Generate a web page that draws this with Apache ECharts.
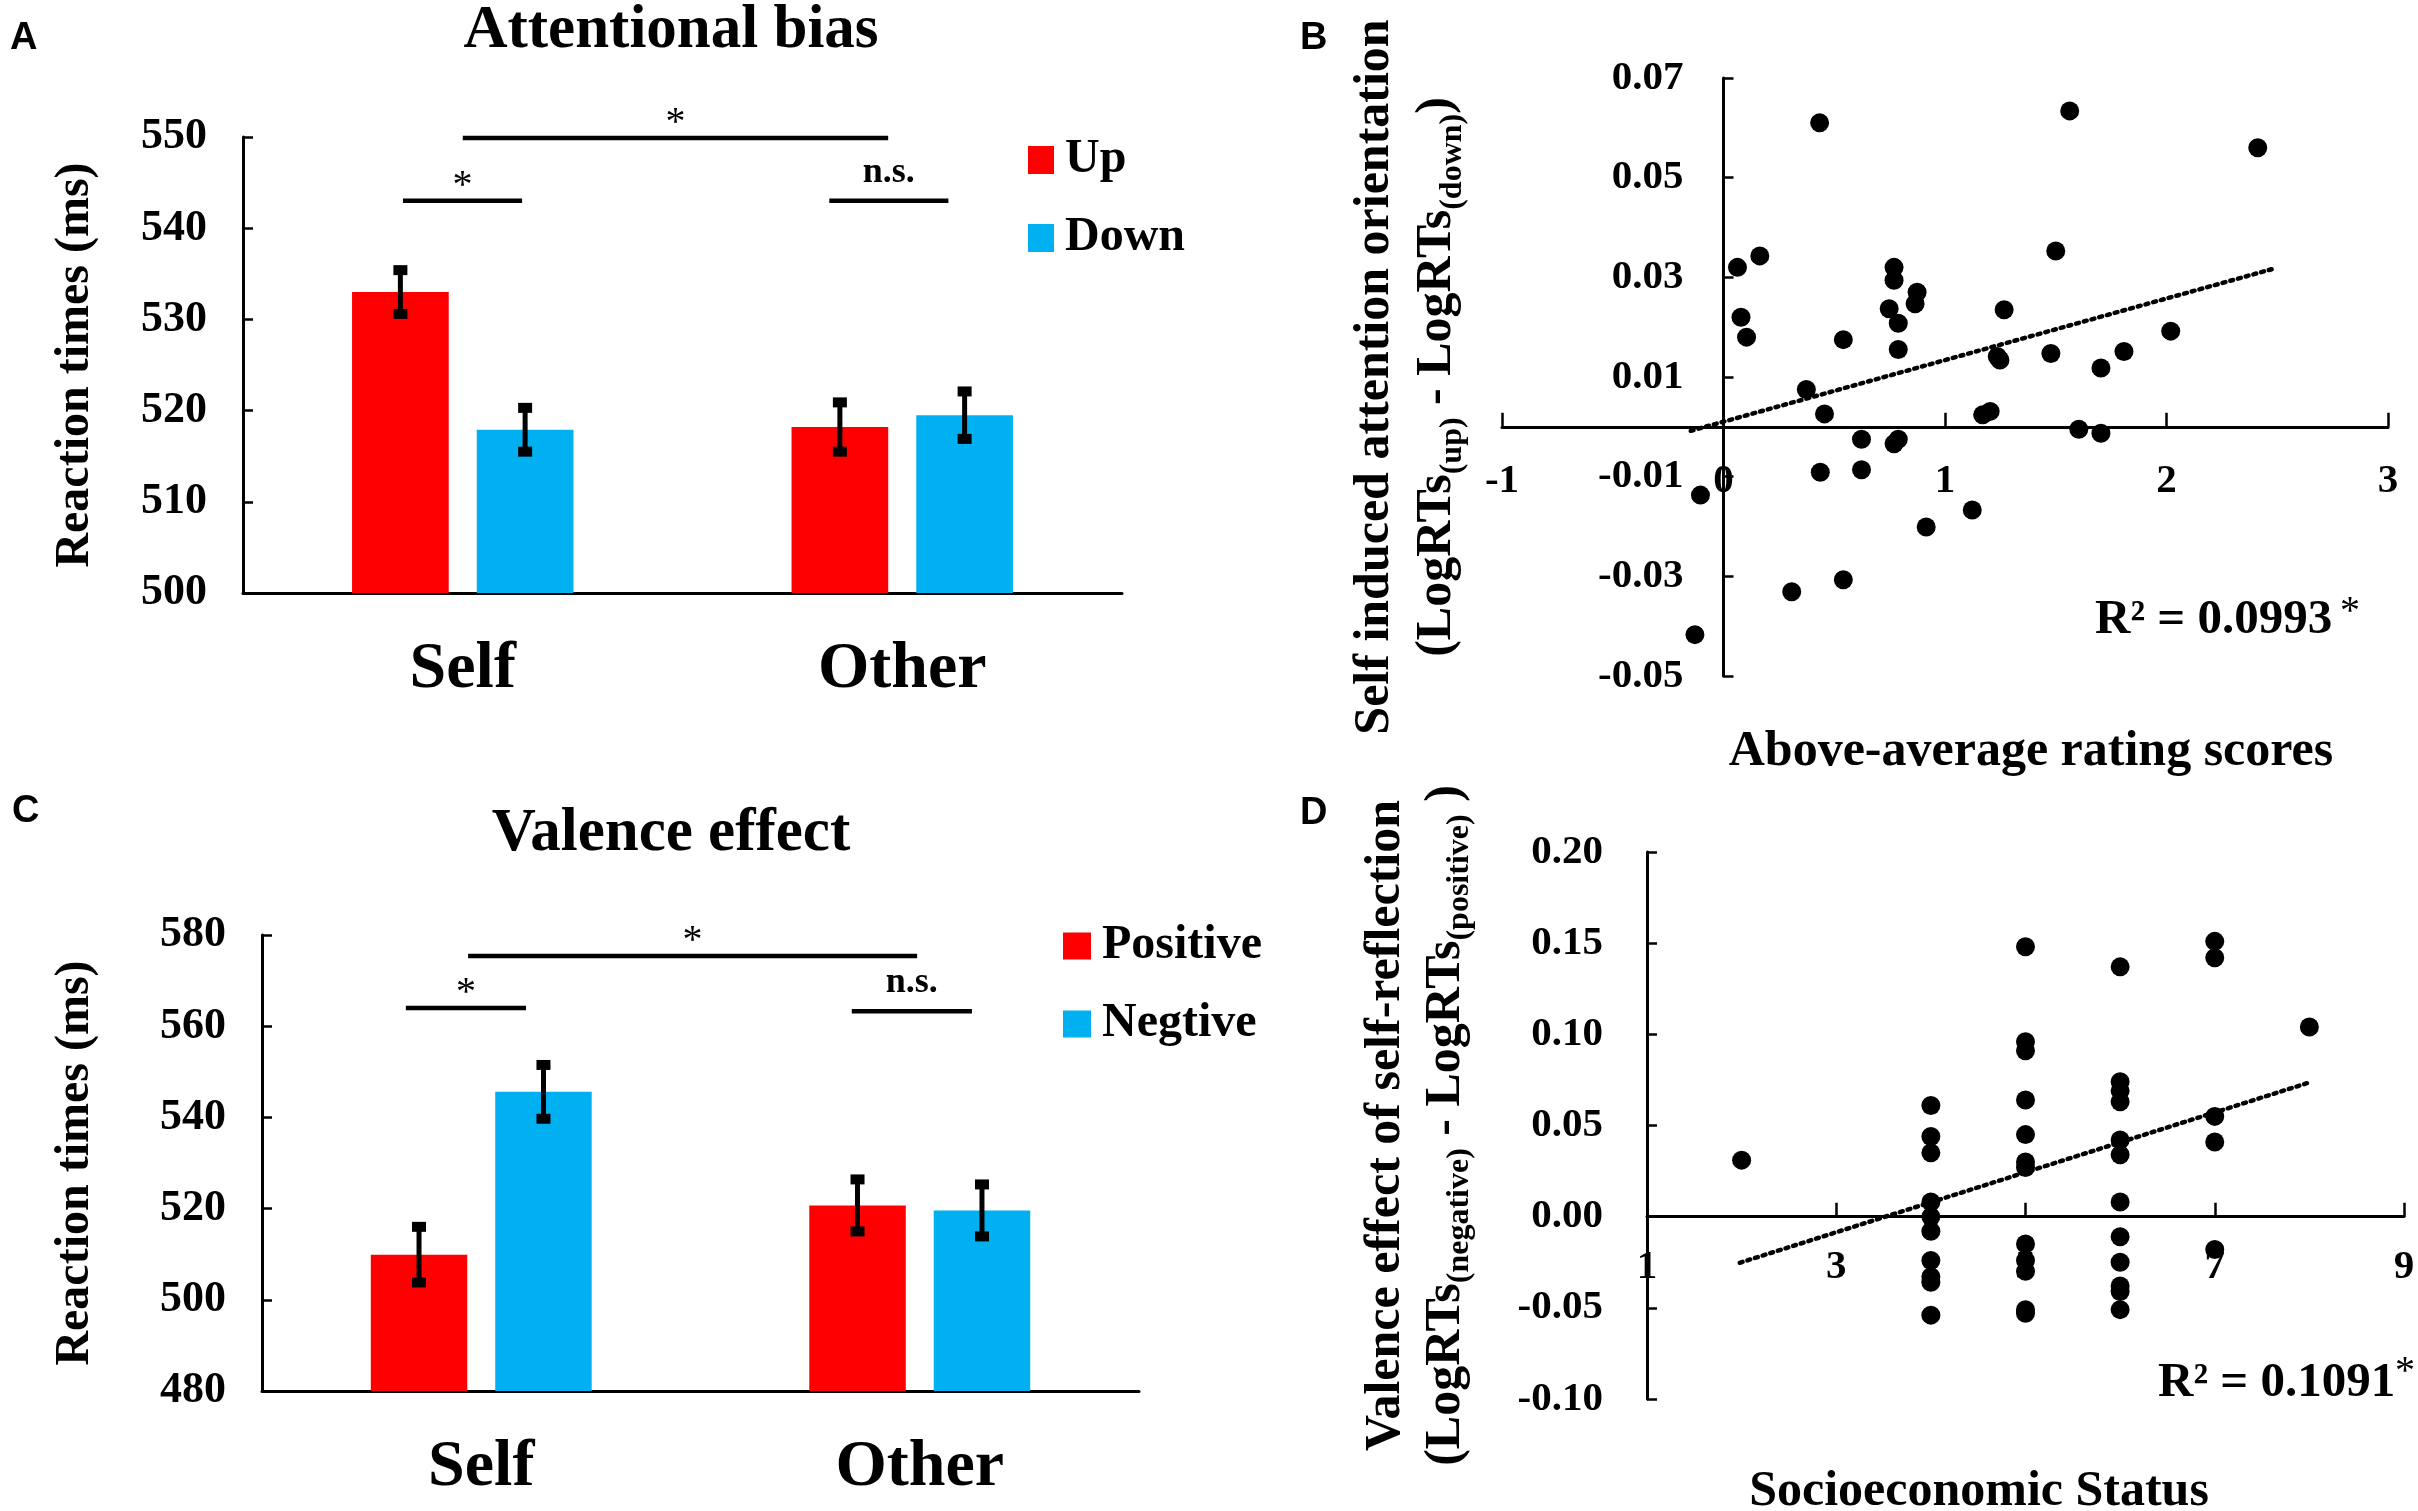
<!DOCTYPE html>
<html><head><meta charset="utf-8">
<script src="https://cdn.jsdelivr.net/npm/echarts@6/dist/echarts.min.js"></script>
<style>html,body{margin:0;padding:0;background:#fff}#c{width:2418px;height:1511px}</style>
</head><body><div id="c"></div>
<script>
// ---------- DATA ----------
const categories = ['Self', 'Other'];
// Panel A: Attentional bias
const upRT = [533.0, 518.2];
const upErr = [2.4, 2.7];
const downRT = [517.9, 519.5];
const downErr = [2.4, 2.6];
// significance brackets: [start (category units), end (category units), value]
const sigA = [[-0.136, 0.135, 543.0], [0.0, 0.968, 549.9], [0.834, 1.105, 543.0]];
const sigALabels = ['*', '*', 'n.s.'];
// Panel C: Valence effect
const posRT = [509.9, 520.7];
const posErr = [6.1, 5.7];
const negRT = [545.6, 519.6];
const negErr = [5.9, 5.7];
const sigC = [[-0.172, 0.102, 564.0], [-0.03, 0.994, 575.4], [0.845, 1.119, 563.3]];
const sigCLabels = ['*', '*', 'n.s.'];
// Panel B scatter
const aboveAvgX = [0.434, 1.563, 2.412, 0.063, 0.164, 1.500, 0.770, 0.770, 0.874, 0.865,
  0.748, 1.267, 0.079, 0.789, 2.019, 0.104, 0.541, 0.789, 1.808, 1.478,
  1.236, 1.248, 1.704, 0.374, 0.456, 1.170, 1.204, 1.604, 1.704, 0.623,
  0.770, 0.789, 0.437, 0.623, -0.104, 1.123, 0.915, 0.541, 0.308, -0.129];
const attentionY = [0.0610, 0.0634, 0.0560, 0.0320, 0.0343, 0.0353, 0.0320, 0.0294, 0.0270, 0.0247,
  0.0237, 0.0235, 0.0220, 0.0208, 0.0192, 0.0180, 0.0175, 0.0155, 0.0151, 0.0147,
  0.0141, 0.0134, 0.0118, 0.0075, 0.0026, 0.0024, 0.0031, -0.0005, -0.0013, -0.0025,
  -0.0034, -0.0025, -0.0091, -0.0086, -0.0137, -0.0167, -0.0201, -0.0307, -0.0331, -0.0417];
const trendB = [[-0.148, -0.0008], [2.489, 0.0318]];
const xTicksB = [-1, 0, 1, 2, 3];
const yTicksB = [-0.05, -0.03, -0.01, 0.01, 0.03, 0.05, 0.07];
// Panel D scatter
const sesX = [2,
  4, 4, 4, 4, 4, 4, 4, 4, 4, 4,
  5, 5, 5, 5, 5, 5, 5, 5, 5, 5, 5, 5,
  6, 6, 6, 6, 6, 6, 6, 6, 6, 6, 6, 6,
  7, 7, 7, 7, 7,
  8];
const valenceY = [0.031,
  0.061, 0.044, 0.035, 0.008, 0.000, -0.008, -0.024, -0.033, -0.036, -0.054,
  0.148, 0.096, 0.091, 0.064, 0.045, 0.030, 0.027, -0.015, -0.024, -0.030, -0.051, -0.053,
  0.137, 0.074, 0.069, 0.063, 0.042, 0.034, 0.008, -0.011, -0.025, -0.038, -0.041, -0.051,
  0.151, 0.142, 0.055, 0.041, -0.018,
  0.104];
const trendD = [[1.98, -0.0253], [8.0, 0.0736]];
const xTicksD = [1, 3, 5, 7, 9];

// ---------- STYLE ----------
const SERIF = 'Liberation Serif';
const RED = '#FF0000', BLUE = '#00B0F0';
const BAR_W = 0.22, BAR_GAP = 0.29;
const axisLineStyle = {color: '#000', width: 3};

function errSeries(vals, errs, side, idx) {
  return {
    type: 'custom', xAxisIndex: idx, yAxisIndex: idx, z: 5, silent: true,
    data: vals.map((v, i) => [i, v, errs[i]]),
    encode: {x: 0, y: 1},
    renderItem: function (params, api) {
      const i = api.value(0), v = api.value(1), e = api.value(2);
      const band = api.size([1, 0])[0];
      const bw = band * BAR_W, gap = bw * BAR_GAP;
      const cx = api.coord([i, v])[0] + side * (bw + gap) / 2;
      const yT = api.coord([i, v + e])[1], yB = api.coord([i, v - e])[1];
      return {type: 'group', children: [
        {type: 'line', shape: {x1: cx, y1: yT, x2: cx, y2: yB}, style: {stroke: '#000', lineWidth: 5}},
        {type: 'rect', shape: {x: cx - 7, y: yT - 5, width: 14, height: 10}, style: {fill: '#000'}},
        {type: 'rect', shape: {x: cx - 7, y: yB - 5, width: 14, height: 10}, style: {fill: '#000'}}
      ]};
    }
  };
}

function sigSeries(sig, labels, idx) {
  return {
    type: 'custom', xAxisIndex: idx, yAxisIndex: idx, z: 6, silent: true, clip: false,
    data: sig.map(s => [0, s[2], s[0], s[1]]),
    encode: {x: 0, y: 1},
    renderItem: function (params, api) {
      const band = api.size([1, 0])[0];
      const c0 = api.coord([0, api.value(1)]);
      const x1 = c0[0] + api.value(2) * band, x2 = c0[0] + api.value(3) * band, y = c0[1];
      const t = labels[params.dataIndex];
      const star = t === '*';
      return {type: 'group', children: [
        {type: 'line', shape: {x1: x1, y1: y, x2: x2, y2: y}, style: {stroke: '#000', lineWidth: 4.5}},
        {type: 'text', x: (x1 + x2) / 2, y: y - (star ? 14 : 28),
          style: {text: t, fill: '#000', font: (star ? 'normal 40px ' : 'bold 36px ') + '"' + SERIF + '"',
            align: 'center', verticalAlign: 'middle'}}
      ]};
    }
  };
}

function barXAxis(idx) {
  return {
    gridIndex: idx, type: 'category', data: categories,
    axisLine: {lineStyle: axisLineStyle},
    axisTick: {inside: true, length: 16, lineStyle: {color: '#000', width: 2.5}},
    axisLabel: {fontFamily: SERIF, fontWeight: 'bold', fontSize: 66, color: '#000', margin: 44},
    splitLine: {show: false}
  };
}
function barYAxis(idx, min, max, interval, gap) {
  return {
    gridIndex: idx, type: 'value', min: min, max: max, interval: interval,
    axisLine: {show: true, lineStyle: axisLineStyle},
    axisTick: {show: true, inside: true, length: 10, lineStyle: {color: '#000', width: 2.5}},
    axisLabel: {fontFamily: SERIF, fontWeight: 'bold', fontSize: 44, color: '#000', margin: 36},
    splitLine: {show: false},
    name: 'Reaction times (ms)', nameLocation: 'middle', nameRotate: 90, nameGap: gap,
    nameTextStyle: {fontFamily: SERIF, fontWeight: 'bold', fontSize: 48, color: '#000'}
  };
}

const subStyle = {fontFamily: SERIF, fontWeight: 'bold', fontSize: 32, color: '#000', verticalAlign: 'bottom', lineHeight: 14};

const option = {
  animation: false,
  backgroundColor: '#fff',
  grid: [
    {left: 243, top: 137, width: 879, height: 456},
    {left: 1502, top: 78, width: 886, height: 598},
    {left: 262, top: 935, width: 877, height: 456},
    {left: 1647, top: 852, width: 757, height: 547}
  ],
  legend: [
    {data: ['Up', 'Down'], orient: 'vertical', left: 1023, top: 131, itemWidth: 26, itemHeight: 28, itemGap: 30,
      icon: 'rect', textStyle: {fontFamily: SERIF, fontWeight: 'bold', fontSize: 48, color: '#000', padding: [0, 0, 0, 6]}},
    {data: ['Positive', 'Negtive'], orient: 'vertical', left: 1058, top: 917, itemWidth: 28, itemHeight: 27, itemGap: 30,
      icon: 'rect', textStyle: {fontFamily: SERIF, fontWeight: 'bold', fontSize: 48, color: '#000', padding: [0, 0, 0, 6]}}
  ],
  xAxis: [
    barXAxis(0),
    {
      gridIndex: 1, type: 'value', min: -1, max: 3, interval: 1, position: 'bottom', offset: 0,
      axisLine: {onZero: false, lineStyle: axisLineStyle},
      axisTick: {show: true, inside: true, length: 14, customValues: xTicksB, lineStyle: {color: '#000', width: 2.5}},
      axisLabel: {fontFamily: SERIF, fontWeight: 'bold', fontSize: 41, color: '#000', margin: 34, customValues: xTicksB},
      splitLine: {show: false}
    },
    barXAxis(2),
    {
      gridIndex: 3, type: 'value', min: 1, max: 9, position: 'bottom', offset: 0,
      axisLine: {onZero: false, lineStyle: axisLineStyle},
      axisTick: {show: true, inside: true, length: 14, customValues: xTicksD, lineStyle: {color: '#000', width: 2.5}},
      axisLabel: {fontFamily: SERIF, fontWeight: 'bold', fontSize: 41, color: '#000', margin: 30, customValues: xTicksD},
      splitLine: {show: false}
    }
  ],
  yAxis: [
    barYAxis(0, 500, 550, 10, 143),
    {
      gridIndex: 1, type: 'value', min: -0.05, max: 0.07, position: 'left', offset: 0,
      axisLine: {show: true, onZero: false, lineStyle: axisLineStyle},
      axisTick: {show: true, inside: true, length: 10, customValues: yTicksB, lineStyle: {color: '#000', width: 2.5}},
      axisLabel: {fontFamily: SERIF, fontWeight: 'bold', fontSize: 41, color: '#000', margin: 40, customValues: yTicksB,
        formatter: v => v.toFixed(2)},
      splitLine: {show: false},
      name: 'Self induced attention orientation\n(LogRTs{s|(up)} - LogRTs{s|(down)})',
      nameLocation: 'middle', nameRotate: 90, nameGap: 255,
      nameTextStyle: {fontFamily: SERIF, fontWeight: 'bold', fontSize: 50, lineHeight: 62, color: '#000', rich: {s: subStyle}}
    },
    barYAxis(2, 480, 580, 20, 162),
    {
      gridIndex: 3, type: 'value', min: -0.10, max: 0.20, interval: 0.05,
      axisLine: {show: true, onZero: false, lineStyle: axisLineStyle},
      axisTick: {show: true, inside: true, length: 10, lineStyle: {color: '#000', width: 2.5}},
      axisLabel: {fontFamily: SERIF, fontWeight: 'bold', fontSize: 41, color: '#000', margin: 44,
        formatter: v => v.toFixed(2)},
      splitLine: {show: false},
      name: 'Valence effect of self-reflection\n(LogRTs{s|(negative)} - LogRTs{s|(positive)} )',
      nameLocation: 'middle', nameRotate: 90, nameGap: 171,
      nameTextStyle: {fontFamily: SERIF, fontWeight: 'bold', fontSize: 50, lineHeight: 60, color: '#000', rich: {s: subStyle}}
    }
  ],
  series: [
    {type: 'bar', name: 'Up', xAxisIndex: 0, yAxisIndex: 0, data: upRT, barWidth: '22%', barGap: '29%', itemStyle: {color: RED}},
    {type: 'bar', name: 'Down', xAxisIndex: 0, yAxisIndex: 0, data: downRT, barWidth: '22%', barGap: '29%', itemStyle: {color: BLUE}},
    errSeries(upRT, upErr, -1, 0),
    errSeries(downRT, downErr, 1, 0),
    sigSeries(sigA, sigALabels, 0),
    {type: 'bar', name: 'Positive', xAxisIndex: 2, yAxisIndex: 2, data: posRT, barWidth: '22%', barGap: '29%', itemStyle: {color: RED}},
    {type: 'bar', name: 'Negtive', xAxisIndex: 2, yAxisIndex: 2, data: negRT, barWidth: '22%', barGap: '29%', itemStyle: {color: BLUE}},
    errSeries(posRT, posErr, -1, 2),
    errSeries(negRT, negErr, 1, 2),
    sigSeries(sigC, sigCLabels, 2),
    {type: 'scatter', xAxisIndex: 1, yAxisIndex: 1, symbolSize: 19, itemStyle: {color: '#000', opacity: 1},
      data: aboveAvgX.map((x, i) => [x, attentionY[i]]), z: 4},
    {type: 'line', xAxisIndex: 1, yAxisIndex: 1, data: trendB, showSymbol: false, z: 3,
      lineStyle: {color: '#000', width: 4.5, type: [3, 5], cap: 'round'}},
    {type: 'scatter', xAxisIndex: 3, yAxisIndex: 3, symbolSize: 19, itemStyle: {color: '#000', opacity: 1},
      data: sesX.map((x, i) => [x, valenceY[i]]), z: 4},
    {type: 'line', xAxisIndex: 3, yAxisIndex: 3, data: trendD, showSymbol: false, z: 3,
      lineStyle: {color: '#000', width: 4.5, type: [3, 5], cap: 'round'}}
  ],
  graphic: [
    {type: 'text', left: 10, top: 20, style: {text: 'A', font: 'bold 38px "Liberation Sans"', fill: '#000'}},
    {type: 'text', left: 1300, top: 20, style: {text: 'B', font: 'bold 38px "Liberation Sans"', fill: '#000'}},
    {type: 'text', left: 12, top: 793, style: {text: 'C', font: 'bold 38px "Liberation Sans"', fill: '#000'}},
    {type: 'text', left: 1300, top: 795, style: {text: 'D', font: 'bold 38px "Liberation Sans"', fill: '#000'}},
    {type: 'text', x: 671, y: 31, style: {text: 'Attentional bias', font: 'bold 61px "' + SERIF + '"', fill: '#000', align: 'center', verticalAlign: 'middle'}},
    {type: 'text', x: 671, y: 834, style: {text: 'Valence effect', font: 'bold 61px "' + SERIF + '"', fill: '#000', align: 'center', verticalAlign: 'middle'}},
    {type: 'text', x: 2031, y: 752, style: {text: 'Above-average rating scores', font: 'bold 50px "' + SERIF + '"', fill: '#000', align: 'center', verticalAlign: 'middle'}},
    {type: 'text', x: 1979, y: 1492, style: {text: 'Socioeconomic Status', font: 'bold 50px "' + SERIF + '"', fill: '#000', align: 'center', verticalAlign: 'middle'}},
    {type: 'text', x: 2095, y: 620, style: {text: 'R² = 0.0993', font: 'bold 49px "' + SERIF + '"', fill: '#000', align: 'left', verticalAlign: 'middle'}},
    {type: 'text', x: 2350, y: 612, style: {text: '*', font: 'normal 40px "' + SERIF + '"', fill: '#000', align: 'center', verticalAlign: 'middle'}},
    {type: 'text', x: 2158, y: 1383, style: {text: 'R² = 0.1091', font: 'bold 49px "' + SERIF + '"', fill: '#000', align: 'left', verticalAlign: 'middle'}},
    {type: 'text', x: 2405, y: 1372, style: {text: '*', font: 'normal 40px "' + SERIF + '"', fill: '#000', align: 'center', verticalAlign: 'middle'}}
  ]
};

const chart = echarts.init(document.getElementById('c'), null, {renderer: 'canvas'});
chart.setOption(option);

// Move the scatter axes onto the zero lines, using the library's own scales
const zB = chart.convertToPixel({gridIndex: 1}, [0, 0]);
const loB = chart.convertToPixel({gridIndex: 1}, [-1, -0.05]);
const zD = chart.convertToPixel({gridIndex: 3}, [1, 0]);
const loD = chart.convertToPixel({gridIndex: 3}, [1, -0.10]);
chart.setOption({
  xAxis: [{}, {offset: zB[1] - loB[1]}, {}, {offset: zD[1] - loD[1]}],
  yAxis: [{}, {offset: loB[0] - zB[0]}, {}, {}]
});
</script>
</body></html>
